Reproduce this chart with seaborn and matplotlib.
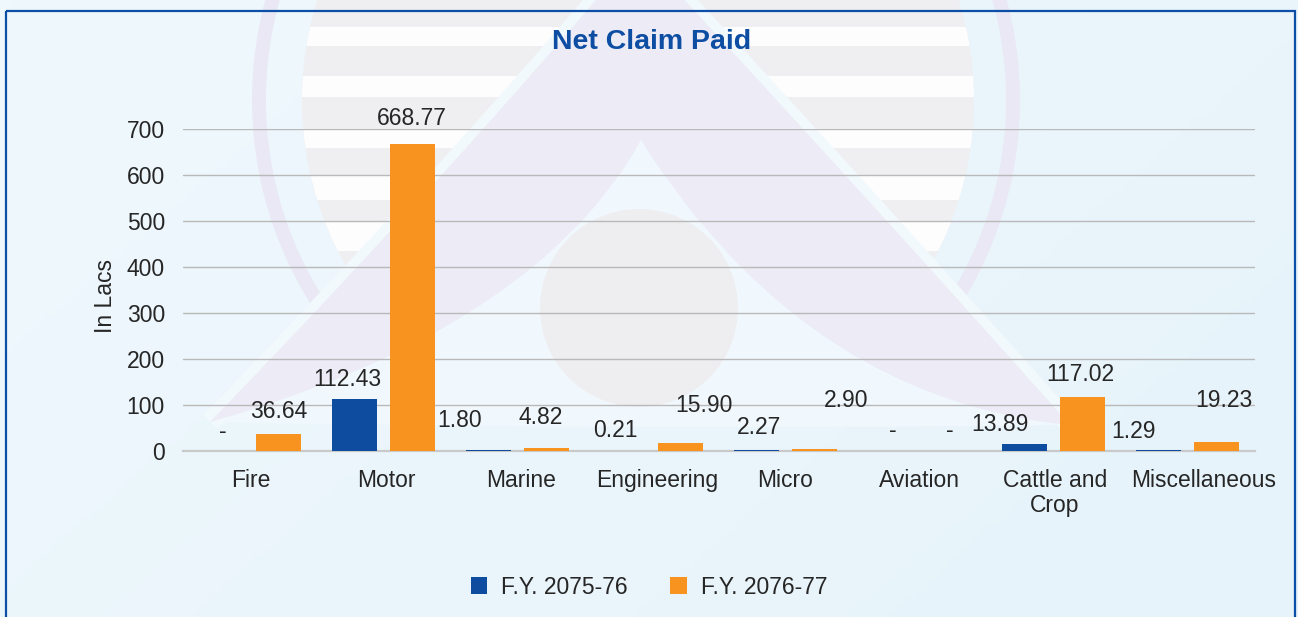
import numpy as np
import pandas as pd
import matplotlib
matplotlib.use("Agg")
import matplotlib.pyplot as plt
import seaborn as sns
from matplotlib.patches import Circle, Rectangle, Polygon, Arc
from matplotlib.colors import LinearSegmentedColormap
from matplotlib.transforms import ScaledTranslation

# ---------------- data ----------------
categories = ["Fire", "Motor", "Marine", "Engineering", "Micro", "Aviation",
              "Cattle and\nCrop", "Miscellaneous"]
series_names = ["F.Y. 2075-76", "F.Y. 2076-77"]
fy_2075_76 = [0.0, 112.43, 1.80, 0.21, 2.27, 0.0, 13.89, 1.29]
fy_2076_77 = [36.64, 668.77, 4.82, 15.90, 2.90, 0.0, 117.02, 19.23]
y_ticks = [0, 100, 200, 300, 400, 500, 600, 700]
title_text = "Net Claim Paid"
y_label = "In Lacs"

# ---------------- styles ----------------
BLUE = "#0d4c9f"
ORANGE = "#f7931e"
TEXT = "#262626"
TITLE_COLOR = "#0d4ea3"
FS = 16.5

# manual label offsets in pixels (label centre relative to bar top)
label_dx = [[2.5, -7, -28.5, -7.5, 3, 2, -25, -24.5],
            [0.5, -0.5, -6, 23, 32, 1, -2, 7.7]]
label_dy = [[19, 20, 29, 20.6, 21.7, 20.7, 20, 19],
            [22, 25, 30.5, 38, 49, 20.7, 22, 41]]
tick_dx = [1, 3, 3.5, 5.5, 0, 0, 1.5, 16]

W, H = 1298, 617

sns.set_style("white")
plt.rcParams["font.family"] = ["Liberation Sans", "DejaVu Sans"]

fig = plt.figure(figsize=(W / 100, H / 100), dpi=100)

# ---------------- watermark background (pixel coordinates) ----------------
bg = fig.add_axes([0, 0, 1, 1], zorder=0)
bg.set_xlim(0, W)
bg.set_ylim(H, 0)
bg.axis("off")
cmap = LinearSegmentedColormap.from_list("bg", ["#eff8fd", "#e6f3fa"])
gx, gy = np.meshgrid(np.linspace(0, 1, 200), np.linspace(0, 1, 100))
bg.imshow(0.65 * gx + 0.35 * gy, cmap=cmap, extent=(0, W, H, 0), aspect="auto",
          zorder=0)

# striped disc
disc = Circle((638, 100), 336, transform=bg.transData, facecolor="none",
              edgecolor="none")
bg.add_patch(disc)
gray_band = Rectangle((0, -5), W, 282, facecolor="#efeff1", edgecolor="none",
                      zorder=1)
bg.add_patch(gray_band)
gray_band.set_clip_path(disc)
for y0, y1 in [(27, 46), (76, 97), (130, 148), (175, 200), (222, 251)]:
    r = Rectangle((0, y0), W, y1 - y0, facecolor="#fdfdfe", edgecolor="none",
                  zorder=1.1)
    bg.add_patch(r)
    r.set_clip_path(disc)

# outer ring
bg.add_patch(Arc((636, 100), 2 * 377, 2 * 377, theta1=148, theta2=392,
                 lw=10, color="#e9e8f4", zorder=1.2, capstyle="butt"))


def bez(p0, p1, p2, n=40):
    t = np.linspace(0, 1, n)[:, None]
    p0, p1, p2 = map(np.asarray, (p0, p1, p2))
    return (1 - t) ** 2 * p0 + 2 * (1 - t) * t * p1 + t ** 2 * p2


left_tip, right_tip, apex = (210, 422), (1070, 425), (641, 140)
outer_left = bez(left_tip, (435, 189), (600, -5))
outer_right = bez((680, -5), (885, 217), right_tip)
inner_right = bez(right_tip, (805, 398), apex)
inner_left = bez(apex, (535, 329), left_tip)

# light interior of the "A"
interior = np.vstack([inner_left, bez(left_tip, (640, 430), right_tip), inner_right])
bg.add_patch(Polygon(interior, closed=True, facecolor="#f1f8fd", edgecolor="none",
                     zorder=1.25))
# light strokes along the outer edges
for curve in (outer_left, outer_right):
    bg.plot(curve[:, 0], curve[:, 1], color="#f2f9fd", lw=14,
            solid_capstyle="butt", zorder=1.3)
legs = np.vstack([outer_left, outer_right, inner_right, inner_left])
bg.add_patch(Polygon(legs, closed=True, facecolor="#ecebf6", edgecolor="none",
                     zorder=1.4))
bg.add_patch(Circle((639, 308), 99, facecolor="#eeeef0", edgecolor="none",
                    zorder=1.5))

# border
bg.add_patch(Rectangle((5.5, 10.5), 1289, 630, facecolor="none",
                       edgecolor="#0d4ea6", lw=1.6, zorder=3))

# ---------------- chart ----------------
df = pd.DataFrame({
    "category": categories * 2,
    "year": [series_names[0]] * len(categories) + [series_names[1]] * len(categories),
    "value": fy_2075_76 + fy_2076_77,
})

ax = fig.add_axes([182.5 / W, 1 - 450.7 / H, 1072 / W, 321.4 / H], zorder=2)
ax.patch.set_alpha(0)
sns.barplot(data=df, x="category", y="value", hue="year", order=categories,
            hue_order=series_names, palette=[BLUE, ORANGE], saturation=1,
            width=0.866, gap=0.224, errorbar=None, ax=ax, zorder=3,
            linewidth=0, edgecolor="none")

ax.set_ylim(0, 700)
ax.set_yticks(y_ticks)
ax.set_xlim(-0.5, len(categories) - 0.5)
ax.yaxis.grid(True, color="#b9b9b9", lw=1.0, zorder=0)
ax.set_axisbelow(True)
for s in ["top", "right", "left"]:
    ax.spines[s].set_visible(False)
ax.spines["bottom"].set_color("#c9c9c9")
ax.spines["bottom"].set_linewidth(1.6)
ax.tick_params(axis="y", length=0, pad=12.6, labelsize=FS, labelcolor=TEXT)
ax.tick_params(axis="x", length=0, pad=13.0, labelsize=FS, labelcolor=TEXT)
ax.set_xlabel("")
ax.set_ylabel(y_label, fontsize=FS, color=TEXT)
ax.yaxis.label.set_ha("center")
ax.yaxis.label.set_va("center")
ax.yaxis.set_label_coords((106 - 182.5) / 1072, 1 - (296 - 129.3) / 321.4)

for lab, dx in zip(ax.get_xticklabels(), tick_dx):
    lab.set_transform(lab.get_transform() + ScaledTranslation(dx / 100, 0, fig.dpi_scale_trans))
    lab.set_linespacing(1.1)

all_vals = [fy_2075_76, fy_2076_77]
for i, cont in enumerate(ax.containers):
    for j, bar in enumerate(cont):
        v = all_vals[i][j]
        txt = "-" if v == 0 else f"{v:.2f}"
        ax.annotate(txt, (bar.get_x() + bar.get_width() / 2, bar.get_height()),
                    xytext=(label_dx[i][j], label_dy[i][j]),
                    textcoords="offset pixels", ha="center", va="center",
                    fontsize=FS, color=TEXT, zorder=5, annotation_clip=False)

handles, labels = ax.get_legend_handles_labels()
if ax.get_legend() is not None:
    ax.get_legend().remove()
leg = fig.legend(handles, labels, loc="center", bbox_to_anchor=(649 / W, 1 - 587 / H),
                 ncol=2, frameon=False, fontsize=FS, handlelength=0.74,
                 handleheight=0.74, handletextpad=0.61, columnspacing=1.83,
                 borderpad=0, borderaxespad=0)
for t in leg.get_texts():
    t.set_color(TEXT)

fig.text(652 / W, 1 - 42 / H, title_text, ha="center", va="center",
         fontsize=20.5, fontweight="bold", color=TITLE_COLOR)

fig.savefig("out.png", dpi=100)
